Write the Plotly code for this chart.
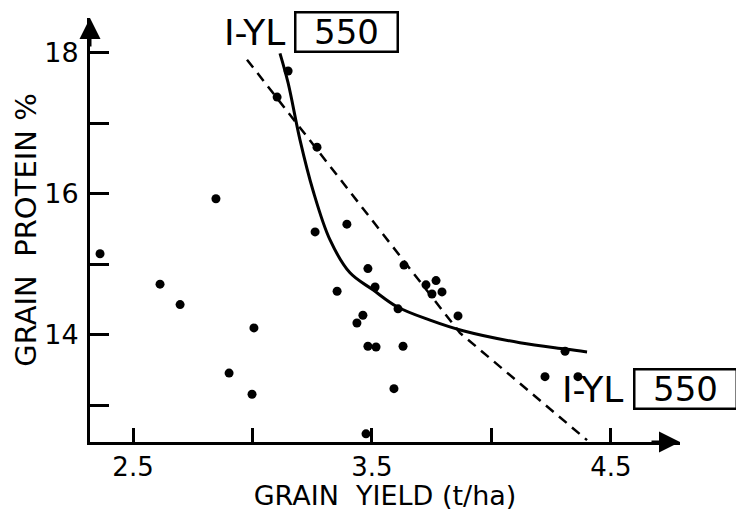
import plotly.graph_objects as go

# Observed data points (grain yield t/ha, grain protein %)
yield_pts = [2.362, 2.613, 2.697, 2.847, 3.006, 2.902, 2.998, 3.149, 3.103, 3.270,
             3.262, 3.395, 3.483, 3.513, 3.354, 3.634, 3.609, 3.462, 3.437, 3.483,
             3.517, 3.630, 3.726, 3.768, 3.751, 3.793, 3.860, 4.308, 3.592, 3.475,
             4.224, 4.362]
protein_pts = [15.15, 14.72, 14.43, 15.93, 14.10, 13.46, 13.16, 17.74, 17.37, 16.66,
               15.46, 15.57, 14.94, 14.68, 14.62, 14.99, 14.37, 14.28, 14.17, 13.84,
               13.83, 13.84, 14.71, 14.77, 14.58, 14.61, 14.27, 13.77, 13.24, 12.60,
               13.41, 13.41]

# Solid fitted curve
curve_x = [3.115, 3.149, 3.199, 3.253, 3.324, 3.408, 3.504, 3.605, 3.743, 3.881,
           4.119, 4.308, 4.400]
curve_y = [17.99, 17.57, 16.76, 16.05, 15.35, 14.88, 14.64, 14.40, 14.21, 14.06,
           13.89, 13.80, 13.76]

# Dashed line
dash_x = [2.977, 3.868, 4.400]
dash_y = [17.90, 14.03, 12.51]

x_ticks = [2.5, 3.0, 3.5, 4.0, 4.5]
x_ticktext = ["2.5", "", "3.5", "", "4.5"]
y_ticks = [13, 14, 15, 16, 17, 18]
y_ticktext = ["", "14", "", "16", "", "18"]

label_text = "I-YL"
box_text = "550"

FONT = "DejaVu Sans"

fig = go.Figure()
fig.add_trace(go.Scatter(x=dash_x, y=dash_y, mode="lines",
                         line=dict(color="black", width=2.5, dash="10px,7px"),
                         showlegend=False, hoverinfo="skip"))
fig.add_trace(go.Scatter(x=curve_x, y=curve_y, mode="lines",
                         line=dict(color="black", width=3, shape="spline"),
                         showlegend=False, hoverinfo="skip"))
fig.add_trace(go.Scatter(x=yield_pts, y=protein_pts, mode="markers",
                         marker=dict(color="black", size=9),
                         showlegend=False, cliponaxis=False))

fig.update_layout(
    width=736, height=511,
    margin=dict(l=90, r=56, t=18, b=69, autoexpand=False),
    paper_bgcolor="white", plot_bgcolor="white",
    font=dict(family=FONT, color="black"),
    xaxis=dict(range=[2.320, 4.789], showgrid=False, zeroline=False,
               showline=True, linecolor="black", linewidth=3,
               ticks="inside", ticklen=14, tickwidth=3, tickcolor="black",
               tickvals=x_ticks, ticktext=x_ticktext,
               tickfont=dict(size=26, family=FONT), ticklabelstandoff=0,
               title=dict(text="GRAIN  YIELD (t/ha)", font=dict(size=27, family=FONT),
                          standoff=5)),
    yaxis=dict(range=[12.484, 18.49], showgrid=False, zeroline=False,
               showline=True, linecolor="black", linewidth=3,
               ticks="inside", ticklen=19, tickwidth=3, tickcolor="black",
               tickvals=y_ticks, ticktext=y_ticktext,
               tickfont=dict(size=27, family=FONT), ticklabelstandoff=3,
               title=dict(text="GRAIN  PROTEIN %", font=dict(size=29, family=FONT),
                          standoff=0)),
)

# axis arrowheads
fig.add_annotation(x=0, y=1, xref="paper", yref="paper", ax=0, ay=30,
                   showarrow=True, arrowhead=2, arrowsize=1.4, arrowwidth=3,
                   arrowcolor="black", text="", standoff=0)
fig.add_annotation(x=1, y=0, xref="paper", yref="paper", ax=-30, ay=0,
                   showarrow=True, arrowhead=2, arrowsize=1.4, arrowwidth=3,
                   arrowcolor="black", text="", standoff=0)

# line labels (paper coordinates)
for lx, bx, ly in [(0.278, 0.434, 0.966), (0.851, 1.010, 0.124)]:
    fig.add_annotation(x=lx, y=ly, xref="paper", yref="paper", text=label_text,
                       showarrow=False, font=dict(size=36, family=FONT),
                       xanchor="center", yanchor="middle")
    fig.add_annotation(x=bx, y=ly, xref="paper", yref="paper", text=box_text,
                       showarrow=False, font=dict(size=34, family=FONT),
                       width=100, height=37, borderpad=0, bordercolor="black",
                       borderwidth=2.5, bgcolor="white",
                       xanchor="center", yanchor="middle")

fig.write_html("out.html", config={"displayModeBar": False},
               post_script="document.body.style.margin='0';")
